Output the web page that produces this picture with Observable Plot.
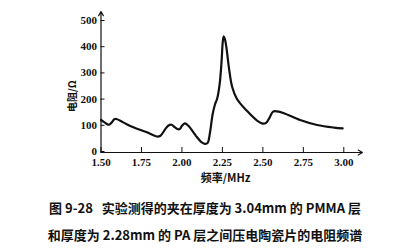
<!DOCTYPE html>
<html><head><meta charset="utf-8">
<script src="https://cdn.jsdelivr.net/npm/d3@7"></script>
<script src="https://cdn.jsdelivr.net/npm/@observablehq/plot@0.6"></script>
<style>
body{margin:0;background:#fff;}
#cap{font-family:"Noto Sans CJK SC",sans-serif;font-weight:bold;font-size:13px;color:#111;text-align:center;width:410px;}
#cap div{height:27px;line-height:27px;}
</style>
</head><body>
<div id="chart"></div>
<div id="cap"></div>
<script>
const freq = [1.50,1.52,1.547,1.565,1.582,1.595,1.64,1.70,1.78,1.846,1.867,1.898,1.915,1.935,1.955,1.975,1.988,2.00,2.018,2.04,2.07,2.095,2.12,2.145,2.16,2.172,2.19,2.205,2.217,2.233,2.245,2.252,2.258,2.266,2.275,2.29,2.31,2.34,2.40,2.464,2.50,2.52,2.537,2.563,2.588,2.63,2.73,2.835,2.94,2.993];
const resistance = [124,116,106,114,127,128,114,96,78,61,64,90,102,106,97,89,90,102,111,102,78,57,40,33,38,71,147,185,204,261,350,420,443,432,400,325,251,204,160,122,110,113,128,156,157,150,124,105,95,92];
const xTicks = [1.50,1.75,2.00,2.25,2.50,2.75,3.00];
const yTicks = [0,100,200,300,400,500];
const xLabel = "频率/MHz";
const yLabel = "电阻/Ω";
const captionLines = ["图 9-28\u00a0\u00a0 实验测得的夹在厚度为 3.04mm 的 PMMA 层","和厚度为 2.28mm 的 PA 层之间压电陶瓷片的电阻频谱"];

const data = freq.map((f,i)=>({f, r: resistance[i]}));
const serif = "'Liberation Serif','DejaVu Serif',serif";

const chart = Plot.plot({
  width: 410, height: 190,
  marginLeft: 100.5, marginRight: 66.7, marginTop: 21, marginBottom: 38,
  style: {fontFamily: serif, fontSize: "11px", fontWeight: "bold", color: "#111", background: "#fff"},
  x: {domain: [1.5, 3.0]},
  y: {domain: [0, 500]},
  marks: [
    Plot.arrow([{x1:1.5,x2:3.115}], {x1:"x1", x2:"x2", y1:0, y2:0, stroke:"#111", strokeWidth:1.2, headLength:6, bend:0}),
    Plot.arrow([{y1:0,y2:538}], {x1:1.5, x2:1.5, y1:"y1", y2:"y2", stroke:"#111", strokeWidth:1.2, headLength:6, bend:0}),
    Plot.axisX(xTicks, {tickSize:-5, tickPadding:11, tickFormat:d3.format(".2f"), stroke:"#111", fill:"#111", fontFamily:serif, fontWeight:"bold", fontSize:11, label:null}),
    Plot.axisY(yTicks, {tickSize:-4, tickPadding:8, dy:-1, stroke:"#111", fill:"#111", fontFamily:serif, fontWeight:"bold", fontSize:11, label:null}),
    Plot.line(data, {x:"f", y:"r", curve:"catmull-rom", stroke:"#111", strokeWidth:2.2}),
    Plot.text([xLabel], {x:2.27, y:0, dy:26, text:d=>d, fontFamily:"'Noto Sans CJK SC',sans-serif", fontWeight:"bold", fontSize:11, fill:"#111", frameAnchor:"middle"}),
    Plot.text([yLabel], {x:1.5, y:215, dx:-28, rotate:-90, text:d=>d, fontFamily:"'Noto Sans CJK SC',sans-serif", fontWeight:"bold", fontSize:10, fill:"#111"})
  ]
});
document.getElementById("chart").appendChild(chart);
const cap = document.getElementById("cap");
cap.style.paddingTop = "4px";
captionLines.forEach(t=>{const d=document.createElement("div"); d.textContent=t; cap.appendChild(d);});
</script>
</body></html>
